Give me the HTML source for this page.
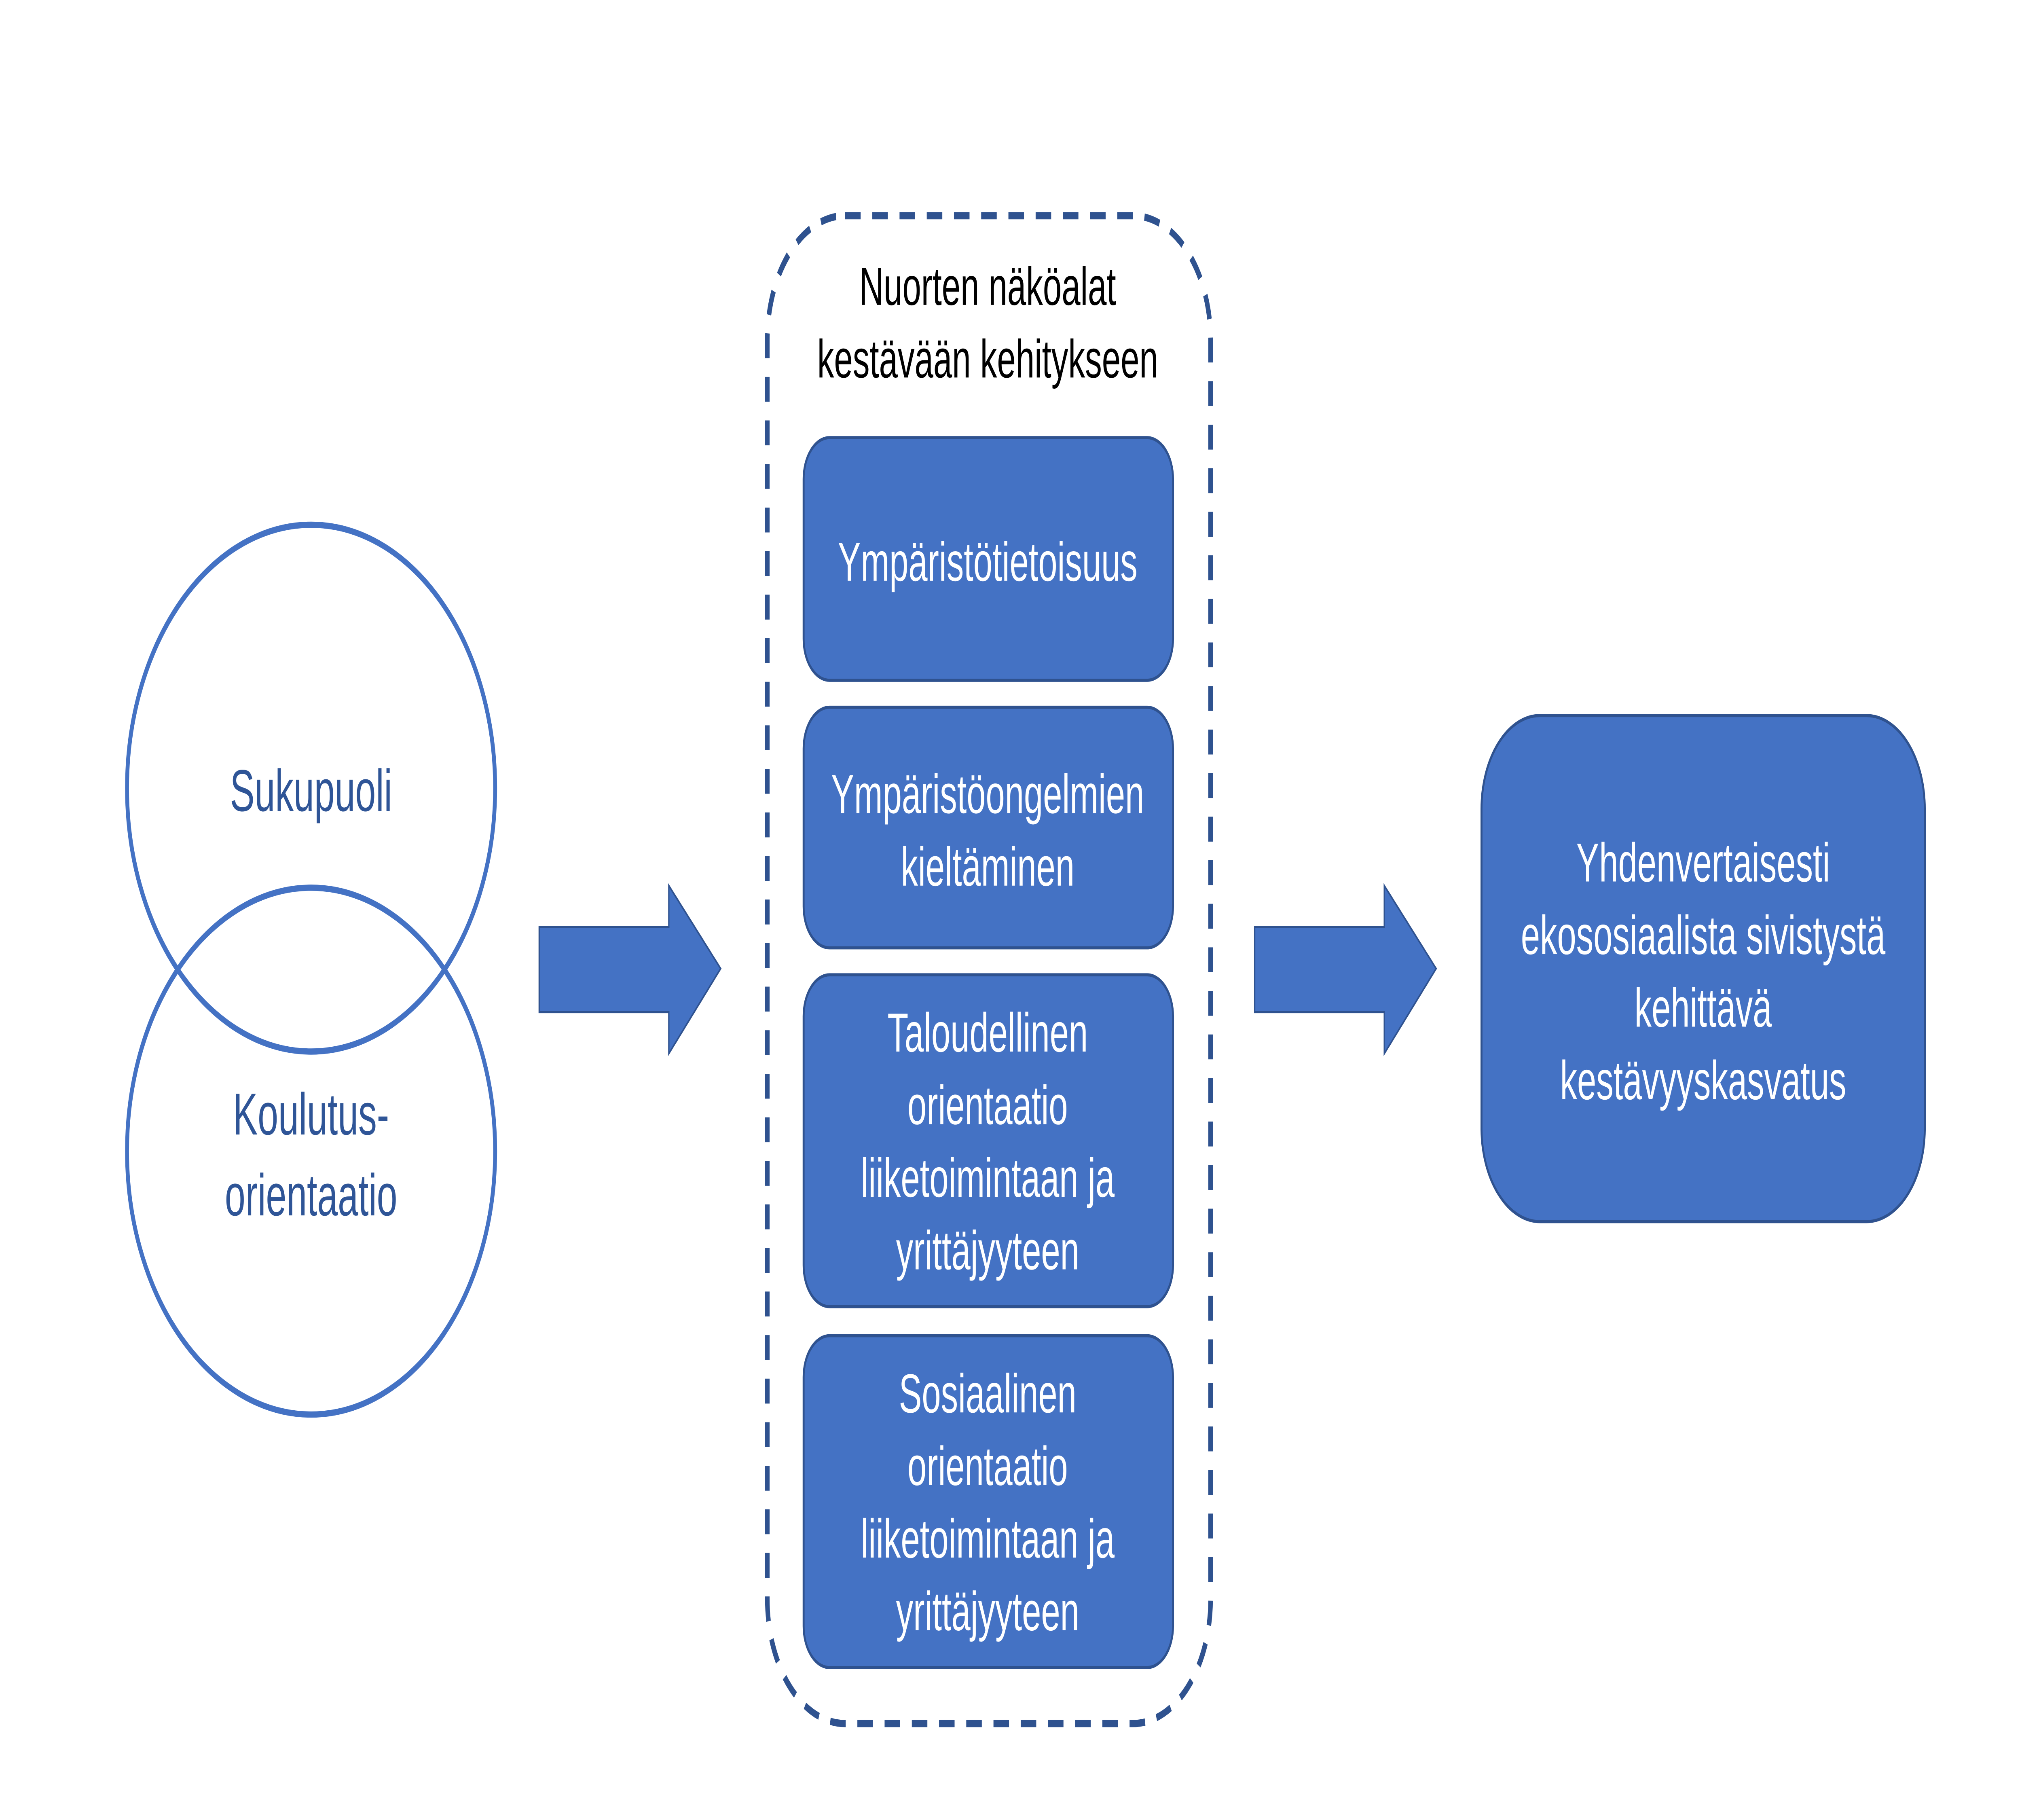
<!DOCTYPE html>
<html><head><meta charset="utf-8"><style>html,body{margin:0;padding:0;background:#fff;width:100%;height:100%;overflow:hidden;}svg{display:block;width:100vw;height:100vh}</style></head>
<body>
<svg xmlns="http://www.w3.org/2000/svg" viewBox="0 0 1560 877.5" preserveAspectRatio="none">
<rect width="1560" height="877.5" fill="#fff"/>
<g fill="none" stroke="#4472C4" stroke-width="3">
<ellipse cx="240" cy="380" rx="142" ry="127"/>
<ellipse cx="240" cy="555" rx="142" ry="127"/>
</g>
<g font-family="Liberation Sans, sans-serif" font-size="28.5" text-anchor="middle" fill="#2F5597">
<text x="240" y="391">Sukupuoli</text>
<text x="240" y="547">Koulutus-</text>
<text x="240" y="586">orientaatio</text>
</g>
<g fill="#4472C4" stroke="#2F528F" stroke-width="1">
<polygon points="416,447 516,447 516,427 556,467 516,508 516,488 416,488"/>
<polygon points="968,447 1068,447 1068,427 1108,467 1068,508 1068,488 968,488"/>
</g>
<rect x="592" y="104" width="342" height="727" rx="60" fill="none" stroke="#2F528F" stroke-width="3.5" stroke-dasharray="12,9"/>
<g font-family="Liberation Sans, sans-serif" font-size="26" text-anchor="middle" fill="#000">
<text x="762" y="147">Nuorten näköalat</text>
<text x="762" y="182">kestävään kehitykseen</text>
</g>
<g fill="#4472C4" stroke="#2F528F" stroke-width="1.5">
<rect x="620" y="211" width="285" height="117" rx="20"/>
<rect x="620" y="341" width="285" height="116" rx="20"/>
<rect x="620" y="470" width="285" height="160" rx="20"/>
<rect x="620" y="644" width="285" height="160" rx="20"/>
<rect x="1143" y="345" width="342" height="244" rx="45"/>
</g>
<g font-family="Liberation Sans, sans-serif" font-size="26.5" text-anchor="middle" fill="#fff">
<text x="762" y="280">Ympäristötietoisuus</text>
<text x="762" y="392">Ympäristöongelmien</text>
<text x="762" y="427">kieltäminen</text>
<text x="762" y="507">Taloudellinen</text>
<text x="762" y="542">orientaatio</text>
<text x="762" y="577">liiketoimintaan ja</text>
<text x="762" y="612">yrittäjyyteen</text>
<text x="762" y="681">Sosiaalinen</text>
<text x="762" y="716">orientaatio</text>
<text x="762" y="751">liiketoimintaan ja</text>
<text x="762" y="786">yrittäjyyteen</text>
<text x="1314" y="425">Yhdenvertaisesti</text>
<text x="1314" y="460">ekososiaalista sivistystä</text>
<text x="1314" y="495">kehittävä</text>
<text x="1314" y="530">kestävyyskasvatus</text>
</g>
</svg>
</body></html>
